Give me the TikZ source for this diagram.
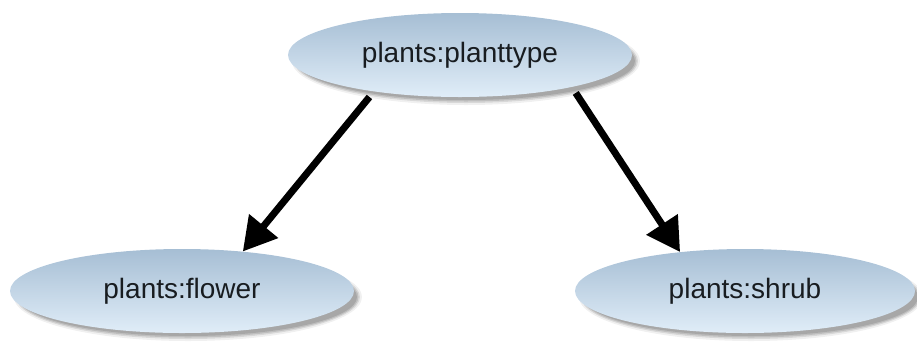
\documentclass[tikz,border=0pt]{standalone}
\usepackage{fontspec}
\setmainfont{Liberation Sans}
\usetikzlibrary{arrows.meta,shapes.geometric}
\definecolor{ellTop}{HTML}{A6BED4}
\definecolor{ellBot}{HTML}{E0EDF8}
\definecolor{inkText}{HTML}{181C20}
\tikzset{
  x=1pt, y=-1pt,
  concept/.style={ellipse, minimum width=#1, minimum height=84pt, inner sep=0pt,
    top color=ellTop, bottom color=ellBot, middle color=ellTop!50!ellBot,
    text=inkText, font=\fontsize{28}{30}\selectfont},
  shade/.style={ellipse, minimum width=#1, minimum height=84pt, inner sep=0pt, fill=black},
  link/.style={line width=7pt, -{Triangle[length=33pt,width=36pt]}, shorten <=7pt}
}
\begin{document}
\begin{tikzpicture}
\useasboundingbox (0,0) rectangle (917,341);
% soft shadows under the ellipses
\foreach \cx/\cy/\w in {460/55/344, 182/291/344, 745/291/340}{
  \foreach \s/\o in {-4/0.06, 0/0.10, 3/0.12, 6/0.12}{
    \node[shade=\w-\s*1pt, opacity=\o, minimum height=84pt-\s*1pt] at (\cx+6,\cy+6) {};
  }
}
\node[concept=344pt] (top) at (460,55) {plants:planttype};
\node[concept=344pt] (flower) at (182,291) {plants:flower};
\node[concept=340pt] (shrub) at (745,291) {plants:shrub};
\draw[link] (top.203) -- (flower.33);
\draw[link] (top.344) -- (shrub.149);
\end{tikzpicture}
\end{document}
